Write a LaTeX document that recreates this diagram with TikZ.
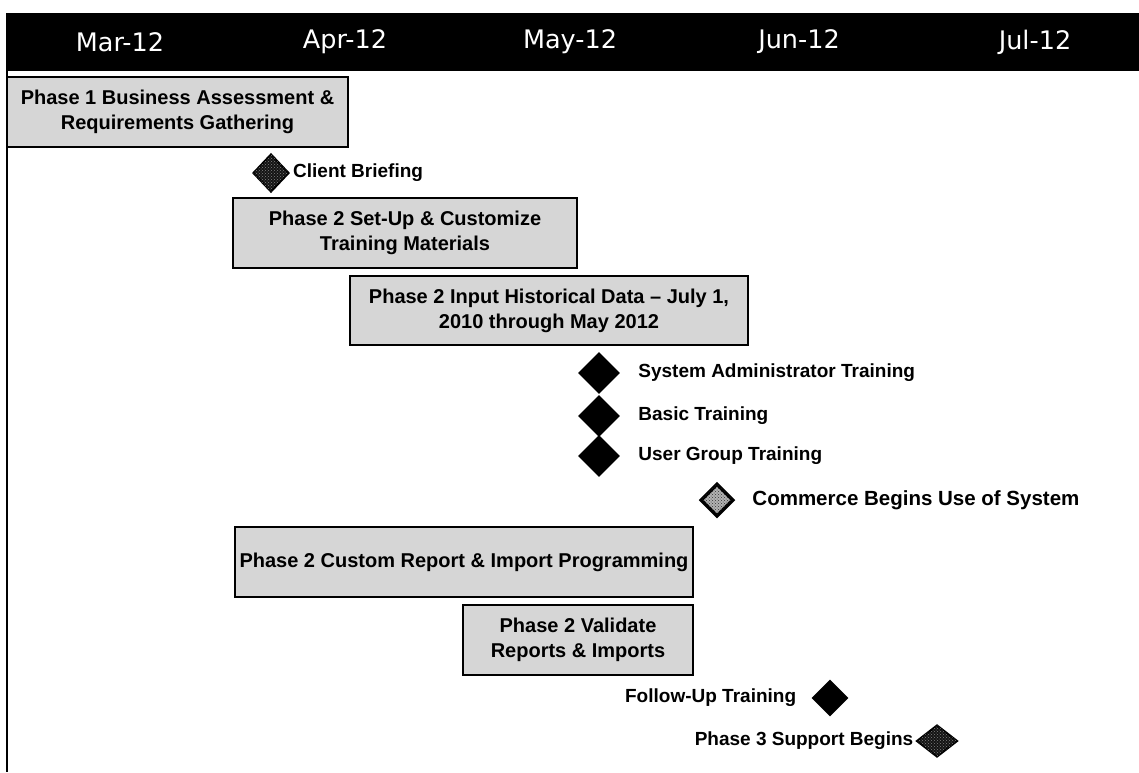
\documentclass[tikz,border=0pt]{standalone}
\usepackage{fontspec}
\setmainfont{Liberation Sans}
\newfontfamily\monthfont{DejaVu Sans}
\usetikzlibrary{shapes.geometric,patterns,positioning}

\begin{document}
\begin{tikzpicture}[x=1pt, y=-1pt,
    month/.style={text=white, font=\monthfont\fontsize{25.5}{30}\selectfont},
    bar/.style={rectangle, draw, line width=2.4pt, fill=black!16, align=center, inner sep=0pt, font=\bfseries\fontsize{20}{25}\selectfont},
    milestone/.style={diamond, aspect=1, fill=black, inner sep=0pt, minimum width=42pt, minimum height=42pt},
    dotted milestone/.style={milestone, draw, line width=2pt, fill=black!92, postaction={pattern=crosshatch dots, pattern color=black!50}},
    tag/.style={inner sep=0pt, font=\bfseries\fontsize{19}{22}\selectfont}]

    \useasboundingbox (0,0) rectangle (1139,772);
    \fill (6,13) rectangle (1139,71);
    \draw [line width=2pt] (7,71) -- (7,772);
    \foreach \m/\x in {Mar-12/120, Apr-12/345, May-12/570, Jun-12/799, Jul-12/1035}
        \node [month] (m-\m) at (\x,42) {\m};

    \node [bar, minimum width=341pt, minimum height=70pt] (p1) at (177.5,112) {Phase 1 Business Assessment \&\\Requirements Gathering};
    \node [bar, minimum width=344pt, minimum height=70pt] (setup) at (405,233) {Phase 2 Set-Up \& Customize\\Training Materials};
    \node [bar, minimum width=398pt, minimum height=69pt] (input) at (549,310.5) {Phase 2 Input Historical Data -- July 1,\\2010 through May 2012};
    \node [bar, minimum width=458pt, minimum height=70pt] (custom) at (464,562) {Phase 2 Custom Report \& Import Programming};
    \node [bar, minimum width=230pt, minimum height=70pt] (validate) at (578,640) {Phase 2 Validate\\Reports \& Imports};

    \node [dotted milestone, minimum width=36pt, minimum height=38pt] (client) at (271,173) {};
    \node [milestone] (sysadmin) at (599,373) {};
    \node [milestone] (basic) at (599,416) {};
    \node [milestone] (usergroup) at (599,456) {};
    \node [milestone, fill=black!30, draw, line width=3.5pt, minimum width=33pt, minimum height=33pt,
        postaction={pattern=crosshatch dots, pattern color=black!80}] (commerce) at (717,500) {};
    \node [milestone, minimum width=37pt, minimum height=37pt] (followup) at (830,698) {};
    \node [dotted milestone, minimum width=41pt, minimum height=32pt] (support) at (937,741) {};

    \node [tag, right=3pt of client] (client-lbl) {Client Briefing};
    \node [tag, right=18pt of sysadmin] (sysadmin-lbl) {System Administrator Training};
    \node [tag, right=18pt of basic] (basic-lbl) {Basic Training};
    \node [tag, right=18pt of usergroup] (usergroup-lbl) {User Group Training};
    \node [tag, right=17pt of commerce, font=\bfseries\fontsize{20.5}{24}\selectfont] (commerce-lbl) {Commerce Begins Use of System};
    \node [tag, left=15pt of followup] (followup-lbl) {Follow-Up Training};
    \node [tag, left=2pt of support] (support-lbl) {Phase 3 Support Begins};
\end{tikzpicture}
\end{document}
